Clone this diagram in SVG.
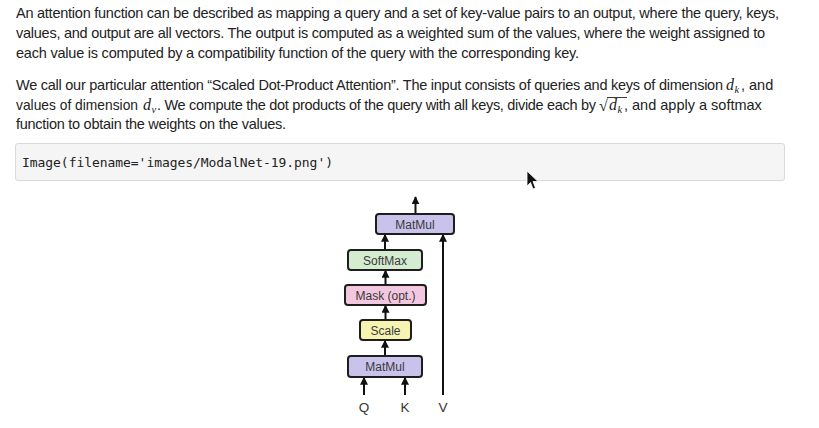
<svg xmlns="http://www.w3.org/2000/svg" width="819" height="428" viewBox="0 0 819 428">
<style>
.p{font-family:"Liberation Sans",Arial,sans-serif;font-size:14.5px;fill:#222}
.m{font-family:"Liberation Serif","DejaVu Serif",serif;font-style:italic;fill:#222}
.code{font-family:"DejaVu Sans Mono",monospace;font-size:13px;fill:#222}
.box{stroke:#1e1e1e;stroke-width:2}
.lbl{font-family:"Liberation Sans",Arial,sans-serif;font-size:12px;fill:#3a3a3a;text-anchor:middle}
.qkv{font-family:"Liberation Sans",Arial,sans-serif;font-size:13.5px;fill:#333;text-anchor:middle}
.conn line{stroke:#111;stroke-width:2}
</style>
<defs>
<marker id="ah" viewBox="0 0 10 10" refX="9" refY="5" markerWidth="4" markerHeight="4" orient="auto">
<path d="M0,0 L10,5 L0,10 z" fill="#111"/>
</marker>
</defs>
<rect width="819" height="428" fill="#fff"/>
<g id="text">
<text class="p" x="16" y="18" textLength="763" lengthAdjust="spacing">An attention function can be described as mapping a query and a set of key-value pairs to an output, where the query, keys,</text>
<text class="p" x="16" y="38" textLength="749" lengthAdjust="spacing">values, and output are all vectors. The output is computed as a weighted sum of the values, where the weight assigned to</text>
<text class="p" x="16" y="58" textLength="563" lengthAdjust="spacing">each value is computed by a compatibility function of the query with the corresponding key.</text>
<text class="p" x="16" y="90" textLength="707" lengthAdjust="spacing">We call our particular attention “Scaled Dot-Product Attention”. The input consists of queries and keys of dimension</text>
<text class="m" x="726" y="90" font-size="16">d</text><text class="m" x="734.5" y="93" font-size="10.5">k</text>
<text class="p" x="741" y="90">, and</text>
<text class="p" x="16" y="110" textLength="122" lengthAdjust="spacingAndGlyphs">values of dimension</text>
<text class="m" x="143" y="110" font-size="16">d</text><text class="m" x="151.5" y="113" font-size="10.5">v</text>
<text class="p" x="157" y="110" textLength="439" lengthAdjust="spacing">. We compute the dot products of the query with all keys, divide each by</text>
<text x="599" y="111" font-family="Liberation Serif,serif" font-size="16" fill="#222">√</text>
<line x1="607" y1="97.5" x2="627" y2="97.5" stroke="#222" stroke-width="0.9"/>
<text class="m" x="609" y="110" font-size="16">d</text><text class="m" x="617.5" y="113" font-size="10.5">k</text>
<text class="p" x="624" y="110">, and apply a softmax</text>
<text class="p" x="16" y="129" textLength="270" lengthAdjust="spacing">function to obtain the weights on the values.</text>
</g>
<g id="code-cell">
<rect x="15.5" y="143.5" width="769" height="37" rx="2.5" fill="#f5f5f5" stroke="#d9d9d9"/>
<text class="code" x="22" y="166.5" textLength="311" lengthAdjust="spacing">Image(filename='images/ModalNet-19.png')</text>
</g>
<g id="cursor">
<path d="M527,171 L527,186 L530.5,182.5 L533,189 L535.5,188 L533,181.5 L538,181.5 Z" fill="#111" stroke="#fff" stroke-width="0.8"/>
</g>
<g class="conn" id="connectors">
<line x1="415.5" y1="214" x2="415.5" y2="197" marker-end="url(#ah)"/>
<line x1="385" y1="250" x2="385" y2="234.5" marker-end="url(#ah)"/>
<line x1="385.5" y1="285" x2="385.5" y2="270.5" marker-end="url(#ah)"/>
<line x1="385.5" y1="320" x2="385.5" y2="305.5" marker-end="url(#ah)"/>
<line x1="385" y1="356" x2="385" y2="340.5" marker-end="url(#ah)"/>
<line x1="443" y1="395" x2="443" y2="234.5" marker-end="url(#ah)"/>
<line x1="364" y1="395" x2="364" y2="377.5" marker-end="url(#ah)"/>
<line x1="405" y1="395" x2="405" y2="377.5" marker-end="url(#ah)"/>
</g>
<g id="matmul-top">
<rect class="box" x="376" y="214" width="78" height="20" rx="3" fill="#c9c3ec"/>
<text class="lbl" x="415" y="228.5">MatMul</text>
</g>
<g id="softmax">
<rect class="box" x="348" y="250" width="74" height="20" rx="3" fill="#d4ecd0"/>
<text class="lbl" x="385" y="264.5">SoftMax</text>
</g>
<g id="mask">
<rect class="box" x="345" y="285" width="81" height="20" rx="3" fill="#f3c7df"/>
<text class="lbl" x="385.5" y="299.5">Mask (opt.)</text>
</g>
<g id="scale">
<rect class="box" x="360" y="320" width="51" height="20" rx="3" fill="#f7f4b2"/>
<text class="lbl" x="385.5" y="334.5">Scale</text>
</g>
<g id="matmul-bottom">
<rect class="box" x="348" y="356" width="74" height="21" rx="3" fill="#c9c3ec"/>
<text class="lbl" x="385" y="371">MatMul</text>
</g>
<g id="inputs">
<text class="qkv" x="364" y="412">Q</text>
<text class="qkv" x="405" y="412">K</text>
<text class="qkv" x="443" y="412">V</text>
</g>
</svg>
